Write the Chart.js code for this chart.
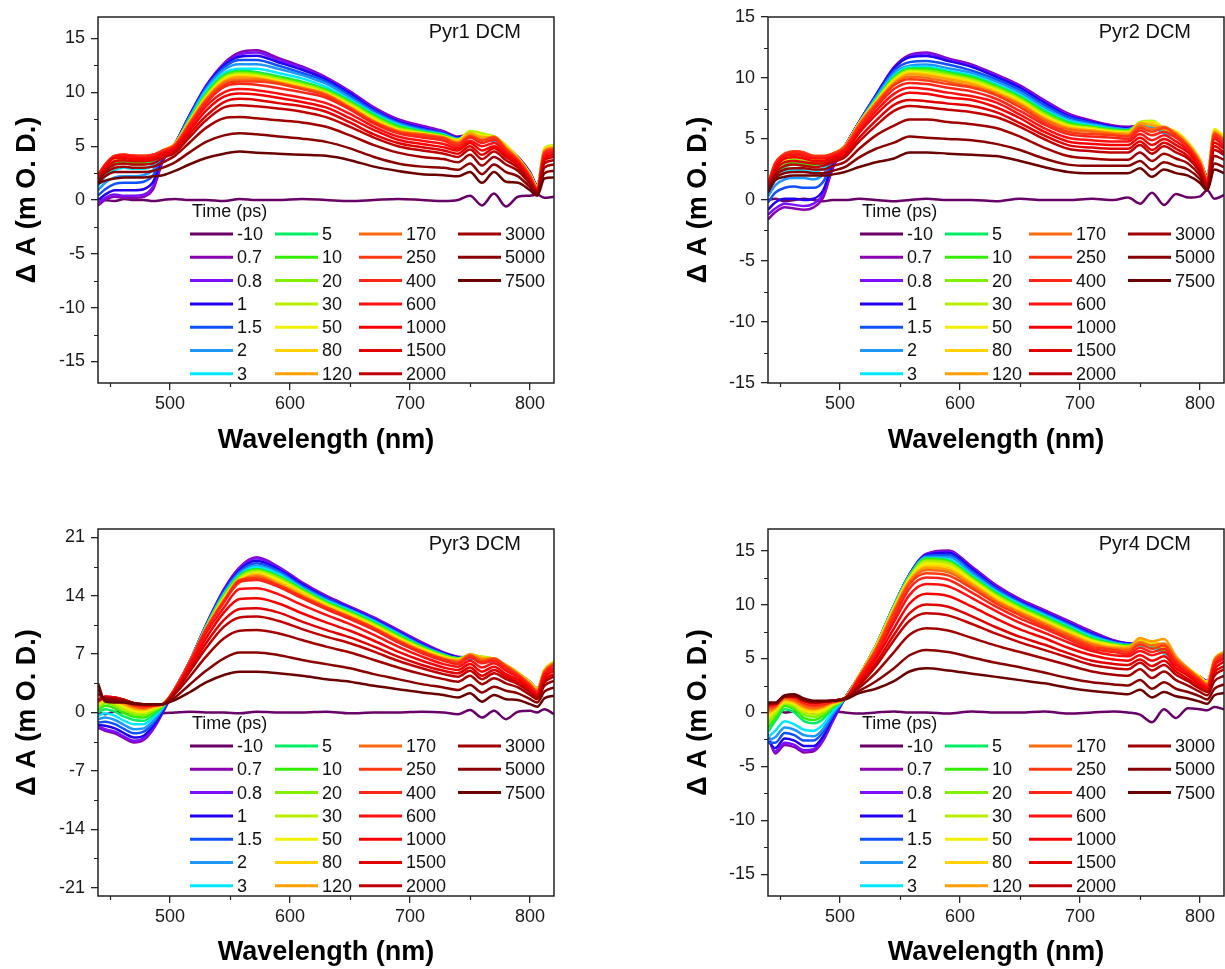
<!DOCTYPE html>
<html>
<head>
<meta charset="utf-8">
<script src="https://cdn.jsdelivr.net/npm/chart.js@4.4.0/dist/chart.umd.min.js"></script>
<style>
  html, body { margin: 0; padding: 0; background: #fff; }
  #wrap { position: relative; width: 1225px; height: 969px; overflow: hidden; background: #fff; }
  canvas { position: absolute; }
</style>
</head>
<body>
<div id="wrap">
  <canvas id="c1" width="612" height="484" style="left:0;top:0"></canvas>
  <canvas id="c2" width="613" height="484" style="left:612px;top:0"></canvas>
  <canvas id="c3" width="612" height="485" style="left:0;top:484px"></canvas>
  <canvas id="c4" width="613" height="485" style="left:612px;top:484px"></canvas>
</div>
<script>
/* Transient absorption spectra, Pyr1-4 in DCM */
const wavelengths = [440,446,454,462,470,478,486,494,504,516,530,545,558,572,590,610,630,650,670,690,710,728,740,750,760,770,780,790,800,806,812,820];
const delays = ['-10','0.7','0.8','1','1.5','2','3','5','10','20','30','50','80','120','170','250','400','600','1000','1500','2000','3000','5000','7500'];
const delayColors = ['#680068','#8a00b0','#7b10ff','#2000ee','#1050ff','#1e96ff','#00e8ff','#00ee66','#33ee00','#80f000','#b8f000','#f0f000','#ffd200','#ffa000','#ff6a10','#ff3a10','#ff2418','#ff1010','#f80000','#e00000','#c00000','#a00000','#880000','#6a0000'];
const xTicks = [500,600,700,800];
const xMinorTicks = [450,550,650,750];
const yTicks15 = [-15,-10,-5,0,5,10,15];
const yMinor15 = [-12.5,-7.5,-2.5,2.5,7.5,12.5];
const yTicks21 = [-21,-14,-7,0,7,14,21];
const yMinor21 = [-17.5,-10.5,-3.5,3.5,10.5,17.5];
const panelNames = ['Pyr1 DCM','Pyr2 DCM','Pyr3 DCM','Pyr4 DCM'];

const pyr1Spectra = [
  [0.1,0.0,-0.1,0.1,0.0,0.0,-0.1,0.0,0.1,0.0,0.0,-0.1,0.1,0.0,0.0,0.1,0.0,-0.1,0.0,0.1,0.0,-0.1,0.0,0.4,-0.5,0.6,-0.6,0.3,0.4,0.5,0.2,0.3],
  [-0.5,0.0,0.3,0.2,0.2,0.3,1.0,3.6,5.2,7.8,10.6,12.7,13.7,13.9,13.2,12.4,11.4,10.1,8.6,7.5,6.9,6.4,5.9,6.1,5.9,5.7,5.0,4.0,2.6,1.4,4.6,4.9],
  [-0.3,0.2,0.5,0.4,0.4,0.5,1.3,3.8,5.2,7.8,10.6,12.6,13.5,13.7,13.0,12.3,11.3,10.0,8.5,7.4,6.8,6.3,5.8,6.0,5.8,5.6,4.9,3.9,2.5,1.3,4.5,4.8],
  [0.0,0.5,0.9,0.9,0.9,1.0,1.7,4.0,5.2,7.8,10.5,12.5,13.3,13.4,12.8,12.1,11.2,9.9,8.4,7.3,6.7,6.2,5.8,6.0,5.8,5.5,4.9,3.9,2.5,1.3,4.5,4.8],
  [0.4,1.0,1.5,1.6,1.6,1.7,2.3,4.1,5.2,7.7,10.4,12.3,13.0,13.0,12.5,11.8,11.0,9.7,8.3,7.2,6.6,6.2,5.7,6.0,5.8,5.5,4.8,3.8,2.5,1.3,4.4,4.7],
  [0.9,1.6,2.1,2.2,2.2,2.3,2.8,4.2,5.2,7.6,10.3,12.1,12.6,12.6,12.2,11.6,10.8,9.5,8.1,7.1,6.5,6.1,5.7,6.0,5.8,5.5,4.8,3.8,2.4,1.2,4.4,4.7],
  [1.3,2.2,2.8,3.0,2.9,2.9,3.3,4.3,5.2,7.5,10.1,11.8,12.2,12.2,11.8,11.3,10.5,9.3,8.0,7.0,6.4,6.1,5.6,6.1,5.9,5.6,4.8,3.8,2.4,1.2,4.4,4.7],
  [1.6,2.6,3.3,3.4,3.3,3.3,3.6,4.4,5.2,7.4,9.9,11.6,12.0,11.9,11.5,11.0,10.3,9.2,7.9,6.9,6.4,6.0,5.6,6.2,6.0,5.7,4.9,3.8,2.4,1.2,4.5,4.8],
  [1.8,2.8,3.5,3.6,3.5,3.5,3.8,4.5,5.2,7.4,9.8,11.5,11.9,11.8,11.4,10.9,10.2,9.1,7.8,6.8,6.3,6.0,5.6,6.2,6.1,5.7,5.0,3.9,2.4,1.2,4.6,4.9],
  [1.9,2.9,3.7,3.8,3.7,3.7,3.9,4.5,5.2,7.3,9.7,11.4,11.8,11.7,11.3,10.8,10.1,9.0,7.7,6.7,6.3,5.9,5.6,6.3,6.1,5.8,5.0,3.9,2.4,1.2,4.7,5.0],
  [2.0,3.0,3.8,3.9,3.8,3.8,4.0,4.6,5.2,7.3,9.6,11.3,11.7,11.6,11.2,10.7,10.0,8.9,7.6,6.6,6.2,5.9,5.6,6.4,6.2,5.9,5.1,3.9,2.4,1.2,4.8,5.1],
  [2.1,3.1,3.9,4.0,3.9,3.9,4.1,4.6,5.2,7.2,9.5,11.2,11.6,11.5,11.1,10.6,9.9,8.8,7.5,6.5,6.2,5.8,5.5,6.2,6.0,5.8,5.0,3.9,2.4,1.2,4.7,5.0],
  [2.2,3.2,4.0,4.1,4.0,4.0,4.1,4.6,5.2,7.2,9.4,11.1,11.5,11.4,11.0,10.5,9.9,8.7,7.4,6.5,6.1,5.8,5.5,6.1,5.9,5.7,4.9,3.8,2.3,1.1,4.6,4.9],
  [2.3,3.3,4.1,4.2,4.1,4.0,4.2,4.6,5.2,7.1,9.4,11.0,11.4,11.3,10.9,10.4,9.8,8.6,7.3,6.4,6.1,5.8,5.4,6.2,5.8,5.8,4.9,3.8,2.3,1.1,4.6,4.9],
  [2.3,3.3,4.1,4.2,4.1,4.1,4.2,4.6,5.1,7.1,9.3,10.9,11.2,11.2,10.9,10.4,9.8,8.6,7.3,6.4,6.1,5.8,5.3,6.0,5.6,5.9,4.8,3.8,2.3,1.1,4.5,4.8],
  [2.3,3.3,4.1,4.2,4.1,4.1,4.2,4.6,5.1,7.0,9.2,10.7,11.0,11.0,10.8,10.3,9.7,8.5,7.2,6.3,6.0,5.7,5.2,5.9,5.5,5.8,4.7,3.7,2.2,1.0,4.4,4.7],
  [2.3,3.3,4.1,4.2,4.1,4.0,4.2,4.5,5.0,6.9,9.0,10.5,10.8,10.7,10.4,10.0,9.5,8.4,7.1,6.2,5.8,5.5,5.0,5.8,5.3,5.6,4.6,3.6,2.1,1.0,4.3,4.6],
  [2.2,3.2,4.0,4.1,4.0,3.9,4.0,4.4,4.9,6.7,8.7,10.0,10.3,10.2,9.9,9.5,9.0,8.0,6.8,5.9,5.5,5.2,4.8,5.5,5.0,5.3,4.4,3.5,2.0,0.9,4.1,4.4],
  [2.1,3.1,3.9,3.9,3.8,3.8,3.9,4.3,4.8,6.4,8.3,9.6,9.9,9.8,9.5,9.1,8.6,7.6,6.5,5.6,5.2,4.9,4.6,5.3,4.6,5.0,4.2,3.4,1.9,0.9,3.9,4.2],
  [2.0,2.9,3.6,3.7,3.6,3.6,3.7,4.1,4.6,6.1,7.8,9.1,9.4,9.3,9.0,8.7,8.2,7.2,6.1,5.3,4.9,4.6,4.3,5.0,4.2,4.8,4.0,3.2,1.8,0.8,3.7,4.0],
  [1.9,2.7,3.3,3.4,3.3,3.3,3.4,3.9,4.4,5.8,7.4,8.6,8.8,8.7,8.5,8.2,7.7,6.8,5.8,5.0,4.6,4.3,4.0,4.7,3.8,4.5,3.7,3.0,1.7,0.8,3.4,3.7],
  [1.8,2.5,3.0,3.1,3.0,3.0,3.1,3.5,4.1,5.3,6.7,7.6,7.7,7.6,7.4,7.2,6.8,6.0,5.1,4.4,4.0,3.8,3.5,4.2,3.2,4.0,3.3,2.7,1.5,0.7,3.0,3.3],
  [1.6,2.2,2.6,2.6,2.6,2.6,2.7,3.0,3.5,4.4,5.4,6.0,6.2,6.1,5.9,5.7,5.4,4.8,4.0,3.4,3.1,3.0,2.8,3.4,2.4,3.3,2.6,2.2,1.2,0.6,2.5,2.7],
  [1.5,1.8,2.0,2.1,2.1,2.1,2.2,2.3,2.7,3.3,3.9,4.3,4.5,4.4,4.3,4.2,4.1,3.7,3.1,2.7,2.4,2.3,2.2,2.6,1.6,2.6,1.7,1.6,0.9,0.4,2.0,2.1]
];

const pyr2Spectra = [
  [0.0,0.1,-0.1,0.0,0.1,0.0,-0.1,0.0,0.0,0.1,0.0,-0.1,0.0,0.1,0.0,0.0,-0.1,0.1,0.0,0.0,0.1,0.0,0.2,-0.3,0.6,-0.4,0.5,0.2,0.3,0.8,0.1,0.4],
  [-1.6,-1.0,-0.6,-0.7,-0.8,-0.6,0.2,2.6,4.4,6.4,8.6,10.9,11.9,12.1,11.6,11.1,10.3,9.4,8.2,7.1,6.5,6.1,6.0,6.1,6.2,5.7,5.4,4.6,3.3,2.0,5.6,5.0],
  [-1.2,-0.7,-0.3,-0.4,-0.5,-0.3,0.5,2.8,4.4,6.4,8.6,10.8,11.8,12.0,11.5,11.0,10.2,9.3,8.1,7.0,6.4,6.0,5.9,6.0,6.1,5.6,5.3,4.5,3.2,1.9,5.5,4.9],
  [-0.8,-0.2,0.1,0.1,0.0,0.1,0.8,3.0,4.4,6.4,8.6,10.8,11.7,11.8,11.4,10.9,10.1,9.2,8.0,6.9,6.4,6.0,5.9,6.0,6.1,5.6,5.3,4.5,3.2,1.9,5.5,4.9],
  [-0.2,0.6,1.0,1.1,1.0,1.0,1.5,3.2,4.4,6.4,8.5,10.6,11.3,11.4,11.1,10.6,9.9,9.0,7.8,6.8,6.3,5.9,5.8,6.0,6.0,5.5,5.2,4.4,3.1,1.8,5.4,4.8],
  [0.3,1.2,1.7,1.8,1.8,1.7,2.1,3.4,4.4,6.3,8.4,10.4,11.0,11.1,10.8,10.4,9.7,8.8,7.6,6.6,6.2,5.9,5.8,6.0,6.0,5.5,5.2,4.4,3.1,1.8,5.4,4.8],
  [0.6,1.7,2.3,2.5,2.4,2.3,2.6,3.5,4.4,6.3,8.3,10.2,10.9,10.9,10.6,10.2,9.5,8.6,7.4,6.5,6.1,5.8,5.7,6.1,6.1,5.6,5.2,4.4,3.1,1.8,5.4,4.8],
  [0.8,2.0,2.7,2.9,2.8,2.7,2.9,3.6,4.4,6.3,8.2,10.1,10.8,10.8,10.5,10.1,9.4,8.5,7.3,6.4,6.0,5.8,5.7,6.2,6.2,5.7,5.3,4.5,3.1,1.8,5.5,4.9],
  [0.9,2.2,2.9,3.1,3.0,2.9,3.1,3.7,4.4,6.3,8.2,10.0,10.7,10.7,10.4,10.0,9.3,8.4,7.2,6.3,6.0,5.7,5.7,6.3,6.3,5.8,5.4,4.6,3.2,1.8,5.6,5.0],
  [1.0,2.4,3.1,3.3,3.2,3.1,3.2,3.7,4.4,6.3,8.1,9.9,10.6,10.6,10.3,9.9,9.2,8.3,7.1,6.2,5.9,5.7,5.6,6.3,6.4,5.8,5.5,4.6,3.2,1.8,5.7,5.1],
  [1.1,2.6,3.3,3.5,3.4,3.3,3.3,3.8,4.4,6.3,8.1,9.9,10.6,10.5,10.2,9.8,9.1,8.2,7.0,6.1,5.9,5.6,5.6,6.4,6.5,5.9,5.6,4.7,3.3,1.8,5.8,5.2],
  [1.2,2.8,3.5,3.7,3.6,3.4,3.4,3.8,4.4,6.3,8.1,9.8,10.5,10.4,10.1,9.7,9.0,8.1,6.9,6.1,5.8,5.6,5.5,6.3,6.4,5.9,5.6,4.7,3.3,1.8,5.8,5.2],
  [1.3,2.9,3.6,3.8,3.7,3.5,3.5,3.8,4.4,6.3,8.0,9.7,10.4,10.3,10.0,9.6,8.9,8.0,6.8,6.0,5.7,5.5,5.5,6.2,6.3,5.8,5.5,4.6,3.2,1.7,5.7,5.1],
  [1.3,3.0,3.7,3.9,3.8,3.6,3.5,3.8,4.4,6.2,8.0,9.6,10.3,10.2,9.9,9.5,8.8,7.9,6.7,5.9,5.7,5.5,5.4,6.3,6.1,5.9,5.5,4.6,3.2,1.7,5.6,5.0],
  [1.3,3.0,3.8,4.0,3.9,3.6,3.6,3.8,4.4,6.2,7.9,9.5,10.1,10.0,9.7,9.3,8.7,7.8,6.6,5.8,5.6,5.4,5.3,6.1,5.8,6.0,5.4,4.5,3.1,1.7,5.5,4.9],
  [1.3,3.0,3.8,4.0,3.9,3.6,3.6,3.8,4.3,6.1,7.8,9.4,9.9,9.8,9.5,9.2,8.6,7.6,6.4,5.6,5.4,5.3,5.2,5.9,5.6,5.9,5.3,4.4,3.0,1.6,5.4,4.8],
  [1.2,2.9,3.7,3.9,3.8,3.5,3.5,3.7,4.2,5.9,7.6,9.1,9.6,9.5,9.2,8.9,8.3,7.3,6.2,5.4,5.2,5.1,5.0,5.7,5.3,5.6,5.1,4.3,2.9,1.6,5.2,4.6],
  [1.2,2.8,3.6,3.7,3.6,3.4,3.4,3.6,4.1,5.7,7.3,8.7,9.2,9.1,8.8,8.5,8.0,7.0,5.9,5.1,4.9,4.8,4.8,5.4,4.9,5.3,4.8,4.1,2.8,1.5,5.0,4.4],
  [1.1,2.6,3.4,3.5,3.4,3.2,3.2,3.5,3.9,5.5,7.0,8.3,8.8,8.7,8.4,8.2,7.6,6.7,5.6,4.8,4.6,4.5,4.5,5.1,4.5,5.0,4.5,3.9,2.6,1.4,4.7,4.2],
  [1.0,2.4,3.1,3.2,3.1,3.0,3.0,3.3,3.7,5.1,6.5,7.8,8.2,8.1,7.9,7.7,7.2,6.3,5.3,4.5,4.3,4.2,4.2,4.8,4.1,4.7,4.2,3.6,2.4,1.3,4.4,3.9],
  [0.9,2.2,2.8,2.9,2.8,2.7,2.8,3.1,3.5,4.8,6.1,7.3,7.7,7.6,7.4,7.2,6.8,6.0,5.0,4.2,4.0,3.9,3.9,4.5,3.8,4.4,3.9,3.4,2.3,1.2,4.1,3.7],
  [0.8,2.0,2.5,2.6,2.6,2.5,2.5,2.8,3.1,4.2,5.3,6.1,6.6,6.6,6.4,6.2,5.9,5.2,4.3,3.6,3.4,3.3,3.3,3.9,3.2,3.8,3.4,3.0,2.0,1.0,3.6,3.3],
  [0.7,1.8,2.2,2.3,2.3,2.2,2.2,2.4,2.7,3.5,4.2,4.7,5.2,5.1,5.0,4.9,4.6,4.1,3.4,2.9,2.8,2.8,2.8,3.2,2.5,3.1,2.8,2.5,1.7,0.9,3.0,2.7],
  [0.6,1.6,1.9,2.0,2.0,2.0,2.0,2.1,2.3,2.7,3.1,3.4,3.9,3.9,3.8,3.7,3.6,3.2,2.7,2.3,2.2,2.2,2.2,2.6,1.9,2.5,2.2,2.0,1.4,0.8,2.5,2.2]
];

const pyr3Spectra = [
  [0.0,-0.2,0.1,0.0,-0.1,0.0,0.1,-0.1,0.0,0.1,0.0,0.0,-0.1,0.1,0.0,0.0,0.1,-0.1,0.0,0.0,0.1,0.0,-0.2,0.3,-0.6,0.2,-0.8,0.1,0.2,0.0,0.4,-0.2],
  [-1.8,-2.2,-2.5,-3.1,-3.6,-3.3,-2.0,0.0,2.8,6.0,10.5,14.8,17.4,18.6,17.5,15.6,14.0,12.7,11.4,9.9,8.4,7.2,6.7,6.6,6.4,6.1,5.5,4.7,3.7,2.9,4.8,5.8],
  [-1.7,-2.0,-2.3,-2.9,-3.4,-3.1,-1.9,0.1,2.8,6.0,10.5,14.7,17.3,18.5,17.4,15.5,13.9,12.6,11.3,9.8,8.3,7.1,6.6,6.5,6.3,6.0,5.4,4.6,3.6,2.8,4.7,5.7],
  [-1.5,-1.6,-1.9,-2.5,-3.0,-2.8,-1.6,0.2,2.8,6.0,10.4,14.6,17.1,18.2,17.2,15.4,13.8,12.5,11.2,9.7,8.2,7.1,6.6,6.5,6.3,6.0,5.4,4.6,3.6,2.8,4.7,5.7],
  [-1.2,-1.1,-1.4,-2.0,-2.5,-2.3,-1.3,0.4,2.8,6.0,10.4,14.5,16.9,17.9,17.0,15.2,13.7,12.4,11.1,9.6,8.1,7.0,6.5,6.5,6.3,6.0,5.4,4.6,3.6,2.8,4.7,5.7],
  [-0.8,-0.6,-0.9,-1.5,-2.0,-1.9,-1.0,0.5,2.8,6.0,10.3,14.3,16.7,17.6,16.8,15.0,13.5,12.3,11.0,9.5,8.0,7.0,6.5,6.5,6.3,6.0,5.4,4.6,3.6,2.8,4.7,5.7],
  [-0.4,-0.1,-0.4,-1.0,-1.4,-1.4,-0.6,0.6,2.8,6.0,10.3,14.2,16.5,17.4,16.6,14.9,13.4,12.2,10.9,9.4,7.9,6.9,6.5,6.6,6.4,6.1,5.4,4.6,3.6,2.8,4.8,5.8],
  [0.0,0.4,0.1,-0.5,-0.9,-1.0,-0.3,0.7,2.8,6.0,10.2,14.1,16.4,17.2,16.4,14.8,13.3,12.1,10.8,9.3,7.9,6.9,6.5,6.7,6.5,6.2,5.5,4.7,3.6,2.8,4.9,5.9],
  [0.3,0.8,0.5,-0.1,-0.5,-0.6,0.0,0.8,2.8,5.9,10.2,14.0,16.3,17.1,16.3,14.7,13.2,12.0,10.7,9.2,7.8,6.8,6.5,6.8,6.6,6.3,5.6,4.7,3.6,2.8,5.0,6.0],
  [0.6,1.1,0.8,0.2,-0.2,-0.3,0.2,0.9,2.8,5.9,10.1,13.9,16.2,17.0,16.2,14.6,13.1,11.9,10.6,9.1,7.7,6.8,6.4,6.9,6.7,6.4,5.6,4.7,3.6,2.8,5.1,6.1],
  [0.8,1.3,1.0,0.4,0.0,-0.1,0.4,0.9,2.8,5.9,10.1,13.8,16.1,16.9,16.0,14.5,13.0,11.8,10.5,9.0,7.7,6.7,6.4,6.9,6.7,6.4,5.7,4.8,3.6,2.8,5.1,6.1],
  [1.0,1.5,1.2,0.7,0.2,0.1,0.5,1.0,2.8,5.9,10.0,13.7,15.9,16.7,15.9,14.4,12.9,11.7,10.4,8.9,7.6,6.7,6.3,6.8,6.6,6.3,5.6,4.7,3.6,2.8,5.0,6.0],
  [1.1,1.6,1.4,0.9,0.4,0.3,0.6,1.0,2.8,5.9,10.0,13.6,15.8,16.6,15.7,14.3,12.8,11.6,10.3,8.8,7.5,6.6,6.3,6.8,6.6,6.3,5.6,4.7,3.5,2.7,5.0,6.0],
  [1.2,1.7,1.5,1.0,0.5,0.4,0.7,1.0,2.8,5.9,9.9,13.5,15.7,16.5,15.5,14.1,12.7,11.5,10.2,8.7,7.4,6.5,6.2,7.0,6.5,6.4,5.7,4.7,3.5,2.7,5.0,6.0],
  [1.3,1.8,1.6,1.2,0.7,0.5,0.8,1.0,2.8,5.9,9.9,13.4,15.6,16.3,15.3,13.9,12.6,11.4,10.1,8.6,7.3,6.4,6.1,6.9,6.3,6.5,5.6,4.6,3.4,2.6,4.9,5.9],
  [1.4,1.9,1.7,1.3,0.8,0.6,0.8,1.0,2.8,6.0,10.0,13.4,15.9,16.1,15.3,13.9,12.6,11.4,10.1,8.6,7.3,6.4,6.0,6.8,6.1,6.4,5.5,4.5,3.3,2.5,4.8,5.8],
  [1.5,1.9,1.8,1.4,1.0,0.8,0.9,1.0,2.8,5.9,9.9,13.2,15.7,15.9,15.1,13.7,12.4,11.2,9.9,8.4,7.1,6.2,5.8,6.6,5.9,6.2,5.3,4.4,3.2,2.4,4.7,5.6],
  [1.5,1.9,1.8,1.5,1.0,0.8,0.9,1.0,2.7,5.7,9.5,12.6,14.8,14.9,14.2,12.9,11.7,10.6,9.3,7.9,6.7,5.8,5.5,6.2,5.4,5.9,5.0,4.2,3.0,2.3,4.5,5.3],
  [1.5,1.9,1.8,1.5,1.1,0.9,0.9,1.0,2.6,5.4,8.9,12.0,13.6,13.7,13.1,11.9,10.8,9.8,8.6,7.3,6.2,5.4,5.1,5.8,4.9,5.5,4.6,3.9,2.8,2.1,4.2,5.0],
  [1.4,1.8,1.7,1.5,1.1,0.9,0.9,1.0,2.5,5.1,8.3,11.1,12.4,12.5,12.0,10.9,9.9,9.0,7.9,6.7,5.7,5.0,4.7,5.4,4.4,5.1,4.3,3.6,2.6,2.0,3.9,4.6],
  [1.4,1.8,1.7,1.5,1.1,0.9,0.9,1.0,2.4,4.8,7.7,10.3,11.4,11.5,11.0,10.0,9.1,8.3,7.3,6.2,5.3,4.6,4.3,5.0,4.0,4.7,4.0,3.4,2.4,1.8,3.6,4.3],
  [2.2,1.7,1.6,1.4,1.1,1.0,1.0,1.0,2.2,4.2,6.7,8.9,9.8,9.9,9.5,8.7,7.9,7.2,6.3,5.4,4.6,4.0,3.7,4.4,3.4,4.1,3.5,3.0,2.1,1.6,3.2,3.8],
  [2.8,1.5,1.4,1.3,1.1,1.0,1.0,1.0,1.8,3.3,5.0,6.5,7.2,7.2,6.9,6.3,5.8,5.3,4.6,4.0,3.4,3.0,2.7,3.3,2.4,3.1,2.6,2.3,1.6,1.2,2.5,3.0],
  [3.5,1.3,1.2,1.2,1.0,1.0,1.0,1.0,1.5,2.4,3.6,4.5,4.9,4.9,4.7,4.4,4.0,3.7,3.2,2.8,2.4,2.1,1.8,2.3,1.3,2.1,1.6,1.5,1.0,0.7,1.7,2.0]
];

const pyr4Spectra = [
  [-0.3,0.2,0.0,0.1,0.0,-0.1,0.0,0.1,0.0,-0.1,0.0,0.1,0.0,0.0,-0.1,0.1,0.0,0.0,0.1,-0.1,0.0,0.1,0.0,-0.2,-0.9,0.3,-0.5,0.4,0.3,0.2,0.5,0.3],
  [-2.0,-3.8,-3.0,-3.2,-3.7,-3.6,-2.6,-0.8,1.3,3.4,6.2,9.9,12.8,14.7,15.0,13.5,11.8,10.5,9.5,8.5,7.5,6.7,6.4,6.3,6.1,5.6,4.6,3.9,3.3,2.9,4.6,5.3],
  [-2.3,-3.6,-2.8,-3.0,-3.5,-3.4,-2.4,-0.7,1.3,3.4,6.2,9.9,12.8,14.7,14.9,13.4,11.7,10.4,9.4,8.4,7.4,6.6,6.4,6.3,6.1,5.6,4.6,3.9,3.3,2.9,4.6,5.3],
  [-2.6,-3.3,-2.4,-2.6,-3.1,-3.1,-2.2,-0.5,1.3,3.4,6.2,9.9,12.8,14.6,14.8,13.3,11.6,10.3,9.3,8.3,7.3,6.6,6.4,6.4,6.1,5.6,4.6,3.9,3.3,2.9,4.6,5.3],
  [-2.8,-2.8,-1.9,-2.1,-2.6,-2.6,-1.8,-0.3,1.3,3.4,6.2,9.9,12.8,14.5,14.6,13.1,11.5,10.2,9.2,8.2,7.2,6.5,6.3,6.6,6.0,5.5,4.6,3.8,3.2,2.8,4.5,5.2],
  [-2.6,-2.3,-1.4,-1.6,-2.1,-2.2,-1.5,-0.1,1.3,3.4,6.2,9.9,12.7,14.4,14.4,12.9,11.3,10.1,9.1,8.1,7.1,6.5,6.3,6.2,6.0,5.5,4.6,3.8,3.2,2.8,4.5,5.2],
  [-2.3,-1.7,-0.8,-1.1,-1.6,-1.7,-1.1,0.1,1.3,3.4,6.2,9.9,12.7,14.3,14.2,12.7,11.2,10.0,9.0,8.0,7.0,6.4,6.2,6.2,6.0,5.5,4.6,3.8,3.2,2.8,4.5,5.2],
  [-1.8,-0.8,0.3,0.0,-0.8,-1.0,-0.6,0.4,1.3,3.4,6.2,9.8,12.6,14.3,14.1,12.6,11.1,9.9,8.9,7.9,6.9,6.4,6.2,6.4,6.2,5.7,4.7,3.9,3.2,2.8,4.6,5.3],
  [-1.4,-0.5,0.6,0.3,-0.5,-0.7,-0.3,0.5,1.3,3.4,6.2,9.8,12.6,14.2,14.0,12.5,11.0,9.8,8.8,7.8,6.8,6.3,6.2,6.5,6.3,5.8,4.8,3.9,3.2,2.8,4.7,5.4],
  [-1.0,-0.2,0.8,0.5,-0.2,-0.4,-0.1,0.6,1.3,3.4,6.2,9.8,12.5,14.1,13.9,12.4,10.9,9.7,8.7,7.7,6.7,6.3,6.1,6.6,6.3,5.9,4.9,4.0,3.2,2.8,4.8,5.5],
  [-0.7,0.0,0.9,0.7,0.0,-0.2,0.1,0.7,1.3,3.4,6.1,9.7,12.5,14.0,13.8,12.3,10.8,9.6,8.6,7.6,6.7,6.2,6.1,6.7,6.4,6.0,5.0,4.1,3.3,2.8,4.9,5.6],
  [-0.4,0.2,1.0,0.8,0.2,0.0,0.2,0.8,1.3,3.4,6.1,9.7,12.4,13.8,13.6,12.2,10.7,9.5,8.5,7.5,6.6,6.2,6.0,6.6,6.4,6.0,5.0,4.1,3.3,2.8,4.9,5.6],
  [-0.2,0.3,1.1,0.9,0.3,0.2,0.4,0.9,1.3,3.4,6.0,9.6,12.3,13.6,13.4,12.0,10.5,9.4,8.4,7.4,6.5,6.1,6.0,6.7,6.5,6.2,5.0,4.0,3.2,2.7,4.8,5.5],
  [0.0,0.4,1.2,1.0,0.5,0.3,0.5,0.9,1.3,3.4,6.0,9.5,12.2,13.4,13.2,11.9,10.4,9.3,8.3,7.3,6.4,6.0,6.0,6.9,6.6,6.8,5.2,4.1,3.2,2.7,4.9,5.6],
  [0.2,0.5,1.3,1.1,0.6,0.4,0.6,1.0,1.3,3.3,5.9,9.4,12.1,13.2,13.0,11.7,10.3,9.2,8.2,7.2,6.3,5.9,5.8,6.5,6.2,6.4,5.0,4.0,3.1,2.6,4.8,5.5],
  [0.4,0.6,1.4,1.3,0.8,0.6,0.7,1.0,1.3,3.3,5.8,9.2,11.9,12.9,12.7,11.5,10.1,9.0,8.0,7.0,6.1,5.8,5.6,6.3,5.9,6.2,4.8,3.9,3.0,2.5,4.7,5.4],
  [0.6,0.7,1.5,1.4,0.9,0.7,0.8,1.0,1.3,3.2,5.6,8.8,11.5,12.5,12.3,11.1,9.8,8.7,7.8,6.8,5.9,5.6,5.4,6.0,5.6,5.9,4.6,3.7,2.9,2.4,4.5,5.2],
  [0.7,0.8,1.5,1.5,1.1,0.9,1.0,1.1,1.3,3.1,5.3,8.4,10.9,11.9,11.7,10.6,9.4,8.3,7.4,6.5,5.7,5.3,5.2,5.7,5.3,5.6,4.4,3.6,2.8,2.3,4.3,5.0],
  [0.7,0.8,1.5,1.5,1.1,0.9,1.0,1.1,1.3,2.9,5.0,7.8,10.1,11.0,10.8,9.8,8.7,7.7,6.9,6.0,5.3,4.9,4.8,5.3,4.8,5.2,4.1,3.4,2.6,2.2,4.0,4.7],
  [0.8,0.8,1.5,1.5,1.1,0.9,1.0,1.1,1.3,2.7,4.6,7.2,9.2,10.0,9.8,8.9,7.9,7.0,6.3,5.5,4.8,4.5,4.4,4.9,4.3,4.8,3.8,3.1,2.4,2.0,3.7,4.3],
  [0.8,0.8,1.5,1.5,1.1,0.9,1.0,1.1,1.3,2.5,4.3,6.7,8.5,9.2,9.0,8.2,7.3,6.5,5.8,5.1,4.4,4.1,4.0,4.6,3.9,4.4,3.5,2.9,2.2,1.9,3.4,4.0],
  [0.8,0.8,1.5,1.5,1.1,1.0,1.0,1.1,1.3,2.3,3.7,5.6,7.2,7.8,7.6,6.9,6.2,5.6,5.0,4.4,3.8,3.5,3.4,4.0,3.2,3.8,3.0,2.5,1.9,1.6,2.9,3.4],
  [0.9,0.9,1.5,1.6,1.2,1.0,1.0,1.1,1.3,2.0,2.9,4.1,5.3,5.8,5.6,5.1,4.6,4.2,3.7,3.2,2.8,2.6,2.5,3.0,2.2,2.8,2.2,1.9,1.5,1.2,2.2,2.6],
  [0.9,0.9,1.6,1.7,1.3,1.1,1.1,1.1,1.2,1.8,2.2,2.9,3.8,4.1,3.9,3.6,3.3,3.0,2.7,2.3,2.0,1.8,1.7,2.1,1.4,1.9,1.5,1.3,1.0,0.8,1.6,1.8]
];

Chart.defaults.font.family = '"Liberation Sans", Arial, Helvetica, sans-serif';

const decor = {
  id: 'decor',
  afterDatasetsDraw(chart, args, opts) {
    const { ctx, chartArea: a } = chart;
    const x = chart.scales.x, y = chart.scales.y;
    ctx.save();
    ctx.strokeStyle = '#222';
    ctx.lineWidth = 1.5;
    ctx.strokeRect(a.left, a.top, a.right - a.left, a.bottom - a.top);

    ctx.lineWidth = 1.2;
    ctx.beginPath();
    xMinorTicks.forEach(v => {
      const px = Math.round(x.getPixelForValue(v)) + 0.5;
      ctx.moveTo(px, a.bottom); ctx.lineTo(px, a.bottom + 4);
    });
    opts.yMinor.forEach(v => {
      const py = Math.round(y.getPixelForValue(v)) + 0.5;
      ctx.moveTo(a.left, py); ctx.lineTo(a.left - 4, py);
    });
    ctx.stroke();

    ctx.fillStyle = '#111';
    ctx.textBaseline = 'middle';
    ctx.textAlign = 'right';
    ctx.font = '20px "Liberation Sans", Arial, sans-serif';
    ctx.fillText(opts.name, a.right - 33, a.top + 15);

    // legend: 7 rows per column
    ctx.textAlign = 'left';
    ctx.font = '18px "Liberation Sans", Arial, sans-serif';
    ctx.fillText('Time (ps)', a.left + 94, a.top + 195);
    const colX = [92, 177, 261, 360];
    chart.data.datasets.forEach((ds, i) => {
      const x0 = a.left + colX[Math.floor(i / 7)];
      const yy = a.top + 217 + (i % 7) * 23.3;
      ctx.strokeStyle = ds.borderColor;
      ctx.lineWidth = 3;
      ctx.beginPath(); ctx.moveTo(x0, yy); ctx.lineTo(x0 + 43, yy); ctx.stroke();
      ctx.fillStyle = '#111';
      ctx.fillText(ds.label, x0 + 47, yy + 1);
    });
    ctx.restore();
  }
};

function makeChart(p) {
  const datasets = p.spectra.map((row, i) => ({
    label: delays[i],
    data: wavelengths.map((w, k) => ({ x: w, y: row[k] })),
    borderColor: delayColors[i],
    borderWidth: 2.5,
    pointRadius: 0,
    cubicInterpolationMode: 'monotone',
    fill: false,
    order: p.spectra.length - i
  }));
  return new Chart(document.getElementById(p.id), {
    type: 'line',
    data: { datasets },
    options: {
      responsive: false,
      animation: false,
      devicePixelRatio: 1,
      layout: { padding: { top: p.top, right: p.right, left: 0, bottom: 0 } },
      plugins: {
        legend: { display: false },
        tooltip: { enabled: false },
        decor: { name: p.name, yMinor: p.yMinor }
      },
      scales: {
        x: {
          type: 'linear', position: 'bottom', min: 440, max: 820,
          afterBuildTicks: s => { s.ticks = xTicks.map(v => ({ value: v })); },
          afterFit: s => { s.height = p.xAxisH; s.paddingLeft = 0; s.paddingRight = 0; },
          grid: { drawOnChartArea: false, drawTicks: true, tickLength: 7, color: '#222', lineWidth: 1.3 },
          border: { display: false },
          ticks: { color: '#1a1a1a', font: { size: 18 }, padding: 3, maxRotation: 0, autoSkip: false, callback: v => String(v) },
          title: { display: true, text: 'Wavelength (nm)', color: '#000', font: { size: 27, weight: 'bold' }, padding: { top: 0, bottom: p.xTitlePad } }
        },
        y: {
          type: 'linear', position: 'left', min: -p.yMax, max: p.yMax,
          afterBuildTicks: s => { s.ticks = p.yTicks.map(v => ({ value: v })); },
          afterFit: s => { s.width = p.yAxisW; },
          grid: { drawOnChartArea: false, drawTicks: true, tickLength: 7, color: '#222', lineWidth: 1.3 },
          border: { display: false },
          ticks: { color: '#1a1a1a', font: { size: 18 }, padding: 6, autoSkip: false, callback: v => String(v) },
          title: { display: true, text: 'Δ A (m O. D.)', color: '#000', font: { size: 27, weight: 'bold' }, padding: { top: p.yTitlePad, bottom: 0 } }
        }
      }
    },
    plugins: [decor]
  });
}

[
  { id: 'c1', name: panelNames[0], spectra: pyr1Spectra, yMax: 17, yTicks: yTicks15, yMinor: yMinor15, top: 17, right: 58, yAxisW: 98, xAxisH: 101, yTitlePad: 11, xTitlePad: 27 },
  { id: 'c2', name: panelNames[1], spectra: pyr2Spectra, yMax: 15, yTicks: yTicks15, yMinor: yMinor15, top: 17, right: 1, yAxisW: 156, xAxisH: 101, yTitlePad: 70, xTitlePad: 27 },
  { id: 'c3', name: panelNames[2], spectra: pyr3Spectra, yMax: 22, yTicks: yTicks21, yMinor: yMinor21, top: 45, right: 58, yAxisW: 98, xAxisH: 73, yTitlePad: 11, xTitlePad: 0 },
  { id: 'c4', name: panelNames[3], spectra: pyr4Spectra, yMax: 17, yTicks: yTicks15, yMinor: yMinor15, top: 45, right: 1, yAxisW: 156, xAxisH: 73, yTitlePad: 70, xTitlePad: 0 }
].forEach(makeChart);
</script>
</body>
</html>
